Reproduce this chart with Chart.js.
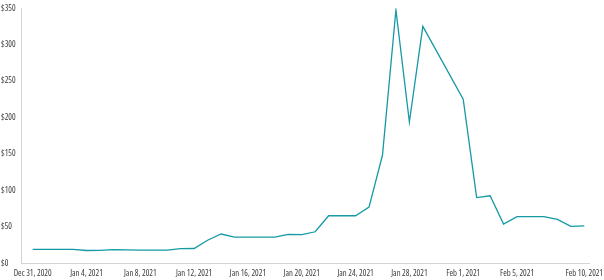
<!DOCTYPE html>
<html>
<head>
<meta charset="utf-8">
<script src="https://cdn.jsdelivr.net/npm/chart.js@4"></script>
<style>
  html, body { margin: 0; padding: 0; background: #fff; }
  #wrap { width: 604px; height: 280px; }
</style>
</head>
<body>
<div id="wrap"><canvas id="priceChart"></canvas></div>
<script>
// one entry per calendar day, Dec 31 2020 .. Feb 10 2021
const days = [
  "Dec 31, 2020", "Jan 1, 2021", "Jan 2, 2021", "Jan 3, 2021", "Jan 4, 2021", "Jan 5, 2021",
  "Jan 6, 2021", "Jan 7, 2021", "Jan 8, 2021", "Jan 9, 2021", "Jan 10, 2021", "Jan 11, 2021",
  "Jan 12, 2021", "Jan 13, 2021", "Jan 14, 2021", "Jan 15, 2021", "Jan 16, 2021", "Jan 17, 2021",
  "Jan 18, 2021", "Jan 19, 2021", "Jan 20, 2021", "Jan 21, 2021", "Jan 22, 2021", "Jan 23, 2021",
  "Jan 24, 2021", "Jan 25, 2021", "Jan 26, 2021", "Jan 27, 2021", "Jan 28, 2021", "Jan 29, 2021",
  "Jan 30, 2021", "Jan 31, 2021", "Feb 1, 2021", "Feb 2, 2021", "Feb 3, 2021", "Feb 4, 2021",
  "Feb 5, 2021", "Feb 6, 2021", "Feb 7, 2021", "Feb 8, 2021", "Feb 9, 2021", "Feb 10, 2021"
];

const prices = [
  18.8, 18.8, 18.8, 18.8, 17.3, 17.4,
  18.4, 18.1, 17.7, 17.7, 17.7, 19.9,
  20.0, 31.4, 39.9, 35.5, 35.5, 35.5,
  35.5, 39.4, 39.1, 43.0, 65.0, 65.0,
  65.0, 76.8, 148.0, 347.5, 193.6, 325.0,
  null, null, 225.0, 90.0, 92.4, 53.5,
  63.8, 63.8, 63.8, 60.0, 50.3, 51.2
];

// labels shown under the axis
const shownTicks = ["Dec 31, 2020", "Jan 4, 2021", "Jan 8, 2021", "Jan 12, 2021", "Jan 16, 2021",
  "Jan 20, 2021", "Jan 24, 2021", "Jan 28, 2021", "Feb 1, 2021", "Feb 5, 2021", "Feb 10, 2021"];

const yTicks = [0, 50, 100, 150, 200, 250, 300, 350];

// 'condensed' goes into the weight slot so the canvas font string becomes "condensed 8.6px 'Open Sans'"
const tickFont = { family: "'Open Sans', sans-serif", size: 8.6, weight: 'condensed' };

const points = prices.map((p, i) => ({ x: i, y: p }));

new Chart(document.getElementById('priceChart').getContext('2d'), {
    type: 'line',
    data: {
        datasets: [{
            data: points,
            borderColor: '#1499a5',
            borderWidth: 1.3,
            pointRadius: 0,
            tension: 0,
            spanGaps: true,
            fill: false
        }]
    },
    options: {
        responsive: true,
        maintainAspectRatio: false,
        animation: false,
        // tick padding is counted twice by chart.js, the negative values take the extra back
        layout: { padding: { top: -1, left: 1, right: 0, bottom: -5 } },
        plugins: {
            legend: { display: false },
            tooltip: { enabled: false }
        },
        scales: {
            x: {
                type: 'linear',
                min: -0.82,
                max: days.length - 1 + 0.35,
                afterBuildTicks: axis => {
                    axis.ticks = shownTicks.map(d => ({ value: days.indexOf(d) }));
                },
                // last label is allowed to run up to the canvas edge
                afterFit: axis => { axis.paddingRight = 15; },
                grid: { display: false, drawTicks: false },
                border: { display: true, color: '#d3d6d9' },
                ticks: {
                    autoSkip: false,
                    maxRotation: 0,
                    padding: 5.8,
                    color: '#3a3a3a',
                    font: tickFont,
                    callback: value => days[value]
                }
            },
            y: {
                min: yTicks[0],
                max: yTicks[yTicks.length - 1],
                afterBuildTicks: axis => { axis.ticks = yTicks.map(v => ({ value: v })); },
                grid: { display: false, drawTicks: false },
                border: { display: true, color: '#d3d6d9' },
                ticks: {
                    color: '#3a3a3a',
                    font: tickFont,
                    crossAlign: 'far',
                    padding: 3,
                    callback: v => '$' + v
                }
            }
        }
    }
});
</script>
</body>
</html>
